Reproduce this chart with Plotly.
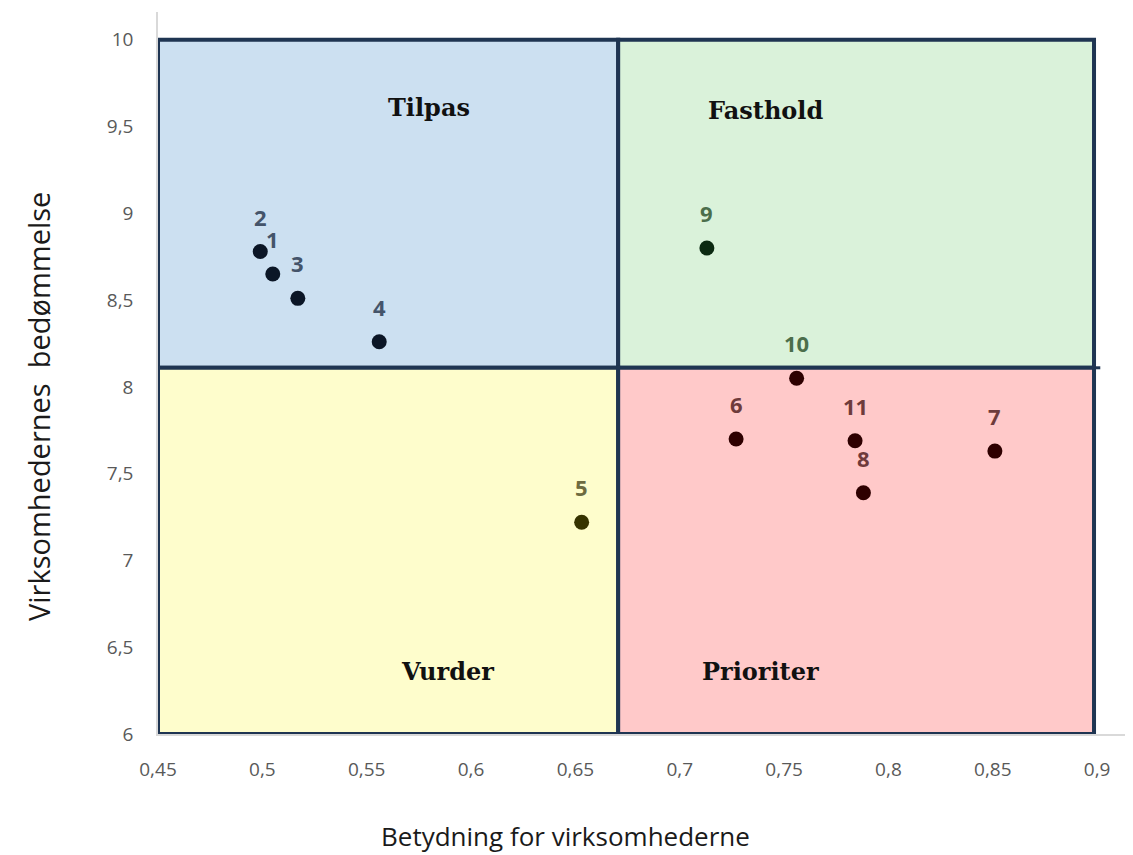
import plotly.graph_objects as go

# ---- data ----
ids = ["1", "2", "3", "4", "5", "6", "7", "8", "9", "10", "11"]
betydning = [0.505, 0.499, 0.517, 0.556, 0.653, 0.727, 0.851, 0.788, 0.713, 0.756, 0.784]
bedommelse = [8.65, 8.78, 8.51, 8.26, 7.22, 7.70, 7.63, 7.39, 8.80, 8.05, 7.69]

x_ticks = [0.45, 0.5, 0.55, 0.6, 0.65, 0.7, 0.75, 0.8, 0.85, 0.9]
y_ticks = [6, 6.5, 7, 7.5, 8, 8.5, 9, 9.5, 10]

x_split = 0.6705
y_split = 8.11
x_min, x_max = 0.45, 0.8985
y_min, y_max = 6.0, 10.0

quadrant_names = ["Tilpas", "Fasthold", "Vurder", "Prioriter"]

# ---- styles ----
fills = {"Tilpas": "#CCE0F1", "Fasthold": "#DAF2DA", "Vurder": "#FEFDCC", "Prioriter": "#FFC9C9"}
marker_cols = {"Tilpas": "#0B1626", "Fasthold": "#0C2A12", "Vurder": "#363300", "Prioriter": "#2E0000"}
label_cols = {"Tilpas": "#44546A", "Fasthold": "#4B6E4B", "Vurder": "#6E6B40", "Prioriter": "#6E3B3B"}
border = "#1F3552"

# layout geometry (page body has an 8px offset)
OFF = 8
W, H = 1133, 855
ML, MT = 150, 4
PLOT_W = W - ML
PLOT_H = 722
MB = H - MT - PLOT_H
X_PX = 2087.0
X_RANGE = [0.45, 0.45 + PLOT_W / X_PX]
Y_RANGE = [6.0, 10.16]
Y_PX = PLOT_H / (Y_RANGE[1] - Y_RANGE[0])
LABEL_SHIFT = 35


def quadrant(x, y):
    if y >= y_split:
        return "Tilpas" if x < x_split else "Fasthold"
    return "Vurder" if x < x_split else "Prioriter"


quads = [quadrant(x, y) for x, y in zip(betydning, bedommelse)]
label_quads = [quadrant(x, y + LABEL_SHIFT / Y_PX) for x, y in zip(betydning, bedommelse)]

fig = go.Figure()

# quadrant rectangles
rects = {
    "Tilpas": (x_min, y_split, x_split, y_max),
    "Fasthold": (x_split, y_split, x_max, y_max),
    "Vurder": (x_min, y_min, x_split, y_split),
    "Prioriter": (x_split, y_min, x_max, y_split),
}
for name in quadrant_names:
    x0, y0, x1, y1 = rects[name]
    fig.add_shape(type="rect", x0=x0, y0=y0, x1=x1, y1=y1, xref="x", yref="y",
                  fillcolor=fills[name], line=dict(color=border, width=4), layer="below")
fig.add_shape(type="line", x0=x_max, x1=x_max + 0.003, y0=y_split, y1=y_split,
              xref="x", yref="y", line=dict(color=border, width=3), layer="below")

fig.add_trace(go.Scatter(
    x=betydning, y=bedommelse, mode="markers",
    marker=dict(size=15, color=[marker_cols[q] for q in quads], line=dict(width=0)),
    hoverinfo="skip", showlegend=False,
))

# point labels
for i, x, y, q in zip(ids, betydning, bedommelse, label_quads):
    fig.add_annotation(x=x, y=y, text=f"<b>{i}</b>", showarrow=False, yshift=LABEL_SHIFT,
                       font=dict(family="Open Sans", size=22, color=label_cols[q]))

# quadrant titles
title_pos = {"Tilpas": (0.580, 9.61), "Fasthold": (0.741, 9.59),
             "Vurder": (0.5885, 6.36), "Prioriter": (0.7385, 6.36)}
for name in quadrant_names:
    tx, ty = title_pos[name]
    fig.add_annotation(x=tx, y=ty, text=f"<b>{name}</b>", showarrow=False,
                       font=dict(family="DejaVu Serif", size=24, color="#111111"))


def px_to_paper(sx, sy):
    fx, fy = sx - OFF, sy - OFF
    return (fx - ML) / PLOT_W, (MT + PLOT_H - fy) / PLOT_H


# axis titles
tx, ty = px_to_paper(565, 836)
fig.add_annotation(xref="paper", yref="paper", x=tx, y=ty, xanchor="center", yanchor="middle",
                   text="Betydning for virksomhederne", showarrow=False,
                   font=dict(family="Open Sans", size=26, color="#1A1A1A"))
tx, ty = px_to_paper(38, 407)
fig.add_annotation(xref="paper", yref="paper", x=tx, y=ty, xanchor="center", yanchor="middle",
                   text="Virksomhedernes  bedømmelse", showarrow=False, textangle=-90,
                   font=dict(family="Open Sans", size=29, color="#1A1A1A"))

fig.update_layout(
    width=W, height=H,
    margin=dict(l=ML, r=0, t=MT, b=MB, autoexpand=False),
    paper_bgcolor="white", plot_bgcolor="white",
    separators=", ",
    showlegend=False,
    font=dict(family="Open Sans"),
)
fig.update_xaxes(
    range=X_RANGE, tickvals=x_ticks, tickformat=".2~f", automargin=False,
    showgrid=False, zeroline=False, showline=True, linecolor="#D9D9D9", linewidth=1.5,
    ticks="", tickfont=dict(family="Open Sans", size=19, color="#595959"),
    ticklabelstandoff=17,
)
fig.update_yaxes(
    range=Y_RANGE, tickvals=y_ticks, tickformat=".1~f", automargin=False,
    showgrid=False, zeroline=False, showline=True, linecolor="#D9D9D9", linewidth=1.5,
    ticks="", tickfont=dict(family="Open Sans", size=19, color="#595959"),
    ticklabelstandoff=19,
)

fig.write_html("out.html")
